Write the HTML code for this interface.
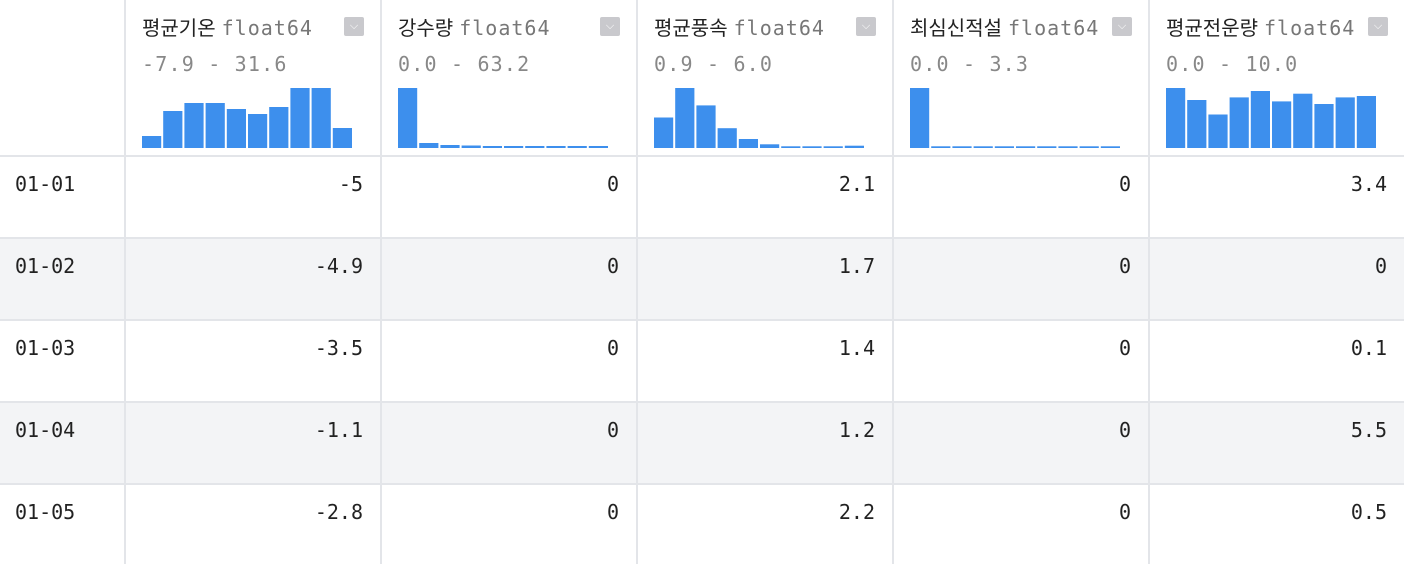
<!DOCTYPE html>
<html><head><meta charset="utf-8"><style>
body{margin:0;width:1404px;height:564px;overflow:hidden;background:#fff;font-family:"Liberation Sans","Noto Sans CJK KR",sans-serif;}
.abs{position:absolute}
.mono{font-family:"DejaVu Sans Mono","Liberation Mono",monospace}
.vline{position:absolute;top:0;width:2px;height:564px;background:#e3e5e9}
.hline{position:absolute;left:0;width:1404px;height:2px;background:#e3e5e9}
.name{position:absolute;top:12px;font-size:20px;color:#222;white-space:nowrap}
.name span{color:#777;font-size:20px;font-family:"DejaVu Sans Mono",monospace;letter-spacing:1px;margin-left:6px}
.range{position:absolute;top:52px;font-size:20px;color:#888;font-family:"DejaVu Sans Mono",monospace;letter-spacing:1.2px}
.dd{position:absolute;top:17px;width:20px;height:19px;background:#c9c9cd;border-radius:2px;color:#fff;font-size:11px;text-align:center;line-height:19px}
.cell{position:absolute;font-size:20px;color:#222;text-align:right;width:230px}
.idx{position:absolute;left:15px;font-size:20px;color:#222}
</style></head><body>
<div id="root"></div>
<script>
const columns=["평균기온","강수량","평균풍속","최심신적설","평균전운량"];
const ranges=["-7.9 - 31.6","0.0 - 63.2","0.9 - 6.0","0.0 - 3.3","0.0 - 10.0"];
const hist0=[12,37,45,45,39,34,41,60,60,20];
const hist1=[60,5,3,2.5,2,2,2,2,2,2];
const hist2=[30.5,60,42.6,19.8,9,3.7,1.7,1.7,1.7,2.3];
const hist3=[60,1.7,1.7,1.7,1.7,1.7,1.7,1.7,1.7,1.7];
const hist4=[60,48,33.5,50.6,57,46.6,54.3,44,50.6,52];
const rowIndex=["01-01","01-02","01-03","01-04","01-05"];
const values=[["-5","0","2.1","0","3.4"],["-4.9","0","1.7","0","0"],["-3.5","0","1.4","0","0.1"],["-1.1","0","1.2","0","5.5"],["-2.8","0","2.2","0","0.5"]];
const hists=[hist0,hist1,hist2,hist3,hist4];
const root=document.getElementById('root');
function add(html){root.insertAdjacentHTML('beforeend',html);}
const colX=c=>125+c*256, rowY=r=>156+r*82;
const barBottom=148, barMax=60, hScale=v=>v/60*barMax;
for(let r=0;r<5;r++){ if(r%2==1) add(`<div class="abs" style="left:0;top:${rowY(r)}px;width:1404px;height:82px;background:#f3f4f6"></div>`);}
for(let r=0;r<5;r++) add(`<div class="hline" style="top:${rowY(r)-1}px"></div>`);
for(let c=0;c<5;c++) add(`<div class="vline" style="left:${colX(c)-1}px"></div>`);
for(let c=0;c<5;c++){
  const x=colX(c);
  add(`<div class="name" style="left:${x+17}px">${columns[c]}<span>float64</span></div>`);
  add(`<div class="dd" style="left:${x+219}px">&#9013;</div>`);
  add(`<div class="range" style="left:${x+17}px">${ranges[c]}</div>`);
  let svg=`<svg class="abs" style="left:${x+17}px;top:80px" width="214" height="70">`;
  hists[c].forEach((v,i)=>{const h=hScale(v);svg+=`<rect x="${i*21.2}" y="${barBottom-80-h}" width="19.2" height="${h}" fill="#3d8fed"/>`;});
  add(svg+'</svg>');
}
for(let r=0;r<5;r++){
  add(`<div class="idx mono" style="top:${rowY(r)+16}px">${rowIndex[r]}</div>`);
  for(let c=0;c<5;c++) add(`<div class="cell mono" style="left:${colX(c)+8}px;top:${rowY(r)+16}px">${values[r][c]}</div>`);
}
</script>
</body></html>
